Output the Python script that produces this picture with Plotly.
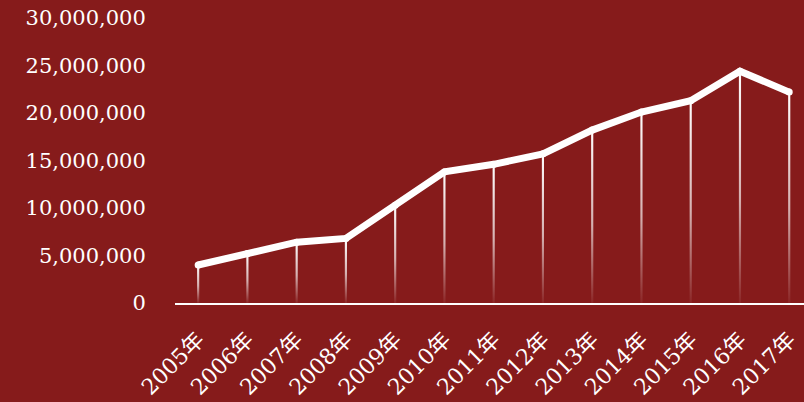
import plotly.graph_objects as go

years = ["2005年", "2006年", "2007年", "2008年", "2009年", "2010年", "2011年",
         "2012年", "2013年", "2014年", "2015年", "2016年", "2017年"]
values = [4000000, 5200000, 6400000, 6800000, 10300000, 13800000, 14600000,
          15700000, 18200000, 20100000, 21300000, 24400000, 22200000]
y_ticks = [0, 5000000, 10000000, 15000000, 20000000, 25000000, 30000000]

BG = "#861b1b"
fig = go.Figure()

xs = list(range(len(years)))
hw = 0.022
for i, v in zip(xs, values):
    fig.add_trace(go.Scatter(
        x=[i - hw, i + hw, i + hw, i - hw, i - hw],
        y=[0, 0, v, v, 0],
        mode="lines", line=dict(width=0), fill="toself",
        fillcolor="white",
        fillgradient=dict(type="vertical", start=0, stop=v,
                          colorscale=[[0, "rgba(255,255,255,0.05)"],
                                      [0.45, "rgba(255,255,255,0.65)"],
                                      [1, "rgba(255,255,255,1)"]]),
        hoverinfo="skip", showlegend=False))

fig.add_trace(go.Scatter(
    x=xs, y=values, mode="lines+markers",
    line=dict(color="white", width=7),
    marker=dict(color="white", size=7),
    showlegend=False))

font_family = "DejaVu Serif, Noto Sans CJK SC, serif"
fig.update_layout(
    width=804, height=402,
    paper_bgcolor=BG, plot_bgcolor=BG,
    margin=dict(l=175, r=0, t=18, b=99),
    font=dict(family=font_family, color="white", size=20),
    xaxis=dict(range=[-0.47, 12.3], tickvals=xs, ticktext=years,
               tickangle=-45, showgrid=False, zeroline=False,
               showline=True, linecolor="white", linewidth=2,
               ticks="outside", ticklen=13, tickcolor="rgba(0,0,0,0)",
               tickfont=dict(size=22), automargin=False),
    yaxis=dict(range=[0, 30000000], tickvals=y_ticks,
               ticktext=[f"{t:,}" for t in y_ticks],
               showgrid=False, zeroline=False, showline=False,
               ticks="outside", ticklen=24, tickcolor="rgba(0,0,0,0)",
               tickfont=dict(size=21), automargin=False),
)
fig.write_html("out.html", config={"displayModeBar": False},
               post_script="document.body.style.margin='0';")
